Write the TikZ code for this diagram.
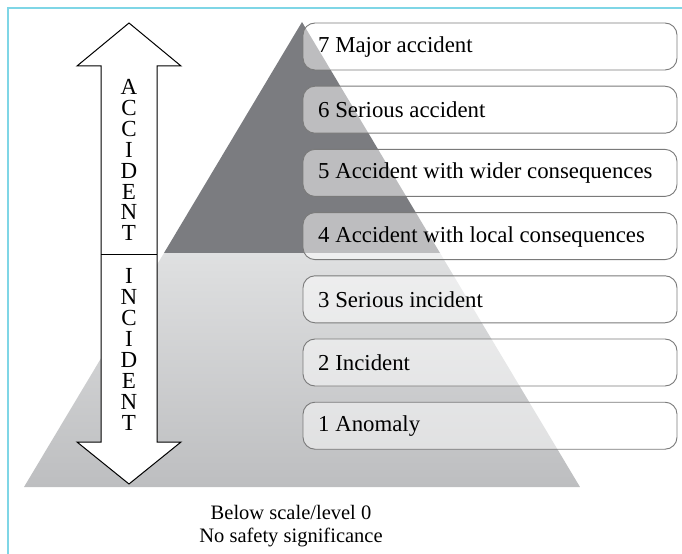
\documentclass[tikz,border=0pt]{standalone}
\usepackage{fontspec}
\setmainfont{Liberation Serif}
\definecolor{frame}{HTML}{7FD6E6}
\definecolor{darkpyr}{HTML}{7B7C80}
\definecolor{lighttop}{HTML}{DFE0E1}
\definecolor{lightbot}{HTML}{BDBEC0}
\definecolor{boxline}{HTML}{7A7A7A}
\tikzset{
  levelbox/.style={draw=boxline, line width=0.9bp, fill=white, fill opacity=0.5, text opacity=1, rounded corners=12bp},
  leveltext/.style={anchor=west, inner sep=0pt, font=\fontsize{22.8bp}{26bp}\selectfont},
  arrowtext/.style={inner sep=0pt, align=center, font=\fontsize{23bp}{20.95bp}\selectfont},
  bigarrow/.style={draw=black, line width=1bp, fill=white},
  foottext/.style={align=center, inner sep=0pt, font=\fontsize{20.5bp}{23bp}\selectfont}
}
\begin{document}
\begin{tikzpicture}[x=1bp, y=-1bp]
\useasboundingbox (0,0) rectangle (682,554);
% frame
\draw[frame, line width=2bp] (8,554) -- (8,8) -- (682,8);
% pyramid
\fill[darkpyr] (302,22) -- (164,253) -- (440,253) -- cycle;
\shade[top color=lighttop, bottom color=lightbot] (164,253) -- (440,253) -- (580,487) -- (24,487) -- cycle;
% level boxes
\foreach \i/\t in {7/7 Major accident, 6/6 Serious accident, 5/5 Accident with wider consequences, 4/4 Accident with local consequences, 3/3 Serious incident, 2/2 Incident, 1/1 Anomaly}{
  \pgfmathsetmacro{\top}{23+(7-\i)*63.2}
  \path[levelbox] (303,\top) rectangle (677,\top+47);
  \node[leveltext] (lvl\i) at (318,\top+24) {\t};
}
% double arrow
\draw[bigarrow] (129,23) -- (181,66) -- (157,66) -- (157,442) -- (181,442) -- (129,484) -- (77,442) -- (101,442) -- (101,66) -- (77,66) -- cycle;
\coordinate (divl) at (101,254);
\coordinate (divr) at (157,254);
\draw[line width=1bp] (divl) -- (divr);
\node[arrowtext] (acc) at (129,160) {A\\C\\C\\I\\D\\E\\N\\T};
\node[arrowtext] (inc) at (129,349.5) {I\\N\\C\\I\\D\\E\\N\\T};
% footer
\node[foottext] (foot) at (291,526) {Below scale/level 0\\No safety significance};
\end{tikzpicture}
\end{document}
